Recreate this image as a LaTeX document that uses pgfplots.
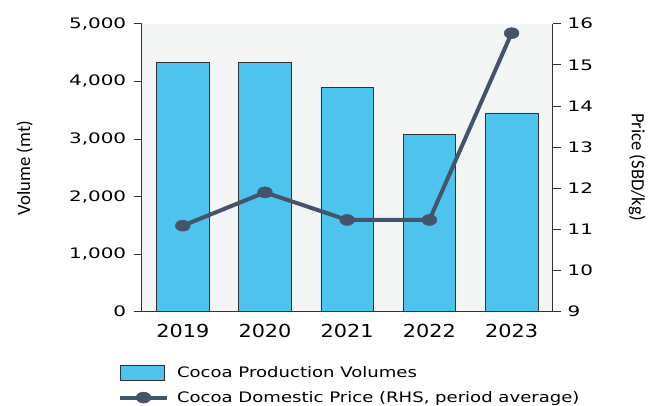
\documentclass[border=0pt]{standalone}
\usepackage{fontspec}
\usepackage{pgfplots}
\pgfplotsset{compat=1.18}
\setmainfont{DejaVu Sans}[FakeStretch=1.38]
\newfontfamily\yearfont{DejaVu Sans}[FakeStretch=1.16]
\newfontfamily\legfont{DejaVu Sans}[FakeStretch=1.25]
\newfontfamily\labfont{Carlito}
\definecolor{barfill}{HTML}{4DC3EE}
\definecolor{linecol}{HTML}{44546A}
\definecolor{bgcol}{HTML}{F4F5F5}
\definecolor{axcol}{HTML}{333333}
\pgfplotsset{
  boxlegend/.style={legend image code/.code={\draw[##1] (0bp,-7.5bp) rectangle (44bp,7.5bp);}},
  linelegend/.style={legend image code/.code={\draw[##1, mark repeat=2, mark phase=2] plot coordinates {(0bp,0bp) (23.5bp,0bp) (47bp,0bp)};}},
}
\begin{document}
\begin{tikzpicture}
\path[use as bounding box] (-141.7bp,-94.3bp) rectangle (518.3bp,311.7bp);
\begin{axis}[
  at={(0,0)}, anchor=south west,
  scale only axis, width=411bp, height=288bp,
  xmin=-0.5, xmax=4.5, ymin=0, ymax=5000,
  axis y line*=left, axis x line*=bottom,
  axis line style={axcol, line width=0.8pt, -},
  axis background/.style={fill=bgcol},
  xtick={0,1,2,3,4},
  xticklabels={2019,2020,2021,2022,2023},
  major x tick style={draw=none},
  extra x ticks={-0.5,0.5,1.5,2.5,3.5,4.5},
  extra x tick labels={},
  extra x tick style={major tick length=5bp, tick style={axcol, line width=0.8pt}},
  ytick={0,1000,2000,3000,4000,5000},
  tick align=outside,
  major tick length=8bp,
  tick style={axcol, line width=0.8pt},
  /pgf/number format/.cd, 1000 sep={,}, assume math mode=true, /pgfplots/.cd,
  scaled y ticks=false,
  yticklabel style={font=\fontsize{14.5}{16}\selectfont, xshift=-4bp},
  xticklabel style={font=\yearfont\fontsize{18}{20}\selectfont, yshift=-1bp},
  legend style={at={(-0.058,-0.184)}, anchor=north west, draw=none, fill=none,
    font=\legfont\fontsize{14.5}{16}\selectfont, row sep=8bp, column sep=6bp, inner sep=0pt},
  legend cell align=left,
]
\addplot[ybar, bar width=52.7bp, fill=barfill, draw=axcol, line width=0.6pt, boxlegend]
  coordinates {(0,4334) (1,4322) (2,3900) (3,3083) (4,3453)};
\addlegendentry{Cocoa Production Volumes}
\addlegendimage{linecol, line width=4bp, mark=*, mark size=5.5bp, mark options={xscale=1.35, fill=linecol, draw=linecol, line width=0.5pt}, linelegend}
\addlegendentry{Cocoa Domestic Price (RHS, period average)}
\end{axis}
\begin{axis}[
  at={(0,0)}, anchor=south west,
  scale only axis, width=411bp, height=288bp,
  xmin=-0.5, xmax=4.5, ymin=9, ymax=16,
  axis y line*=right, axis x line=none,
  axis line style={axcol, line width=0.8pt, -},
  ytick={9,10,...,16},
  tick align=outside,
  major tick length=8bp,
  tick style={axcol, line width=0.8pt},
  /pgf/number format/assume math mode=true,
  yticklabel style={font=\fontsize{14.5}{16}\selectfont, xshift=3.5bp},
]
\addplot[linecol, line width=4bp, mark=*, mark size=5.5bp, mark options={xscale=1.35, fill=linecol, draw=linecol, line width=0.5pt}]
  coordinates {(0,11.09) (1,11.9) (2,11.23) (3,11.23) (4,15.77)};
\end{axis}
\node[rotate=90, font=\labfont\fontsize{18.7}{20}\selectfont] at (-117bp,143.7bp) {Volume (mt)};
\node[rotate=-90, font=\labfont\fontsize{18.7}{20}\selectfont] at (495.3bp,144.7bp) {Price (SBD/kg)};
\end{tikzpicture}
\end{document}
